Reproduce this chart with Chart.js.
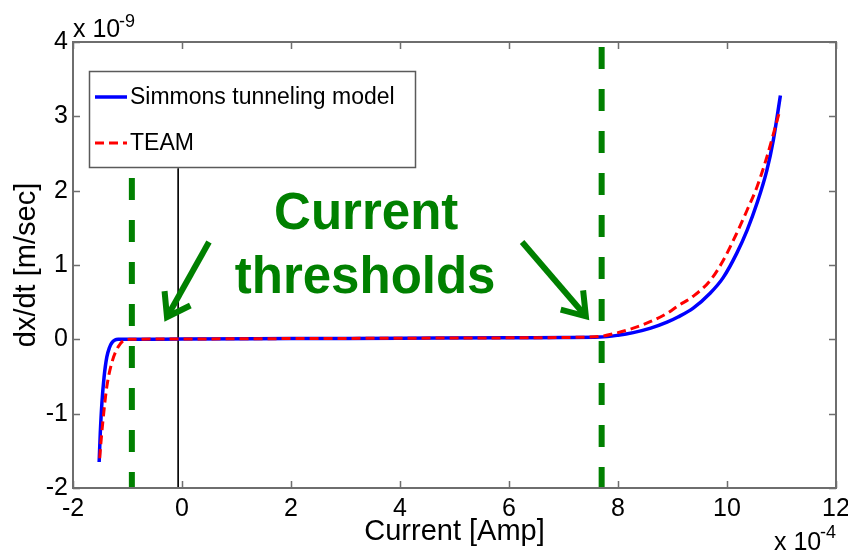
<!DOCTYPE html>
<html>
<head>
<meta charset="utf-8">
<script src="https://cdn.jsdelivr.net/npm/chart.js@4.4.0/dist/chart.umd.min.js"></script>
<style>
  html, body { margin: 0; padding: 0; background: #fff; }
  canvas { display: block; }
</style>
</head>
<body>
<canvas id="chart" width="848" height="552"></canvas>
<script>
// ---------------------------------------------------------------------------
// Data (x in 1e-4 A, y in 1e-9 m/s)
// ---------------------------------------------------------------------------
const simmonsX = [-1.52, -1.50, -1.47, -1.43, -1.38, -1.33, -1.29, -1.23, -1.17, -1.0, 0, 2, 4, 6, 7, 7.67, 8.0, 8.28, 8.6, 8.90, 9.1, 9.38, 9.69, 9.93, 10.18, 10.37, 10.55, 10.73, 10.85, 10.98];
const simmonsY = [-1.65, -1.27, -0.86, -0.51, -0.24, -0.11, -0.05, -0.01, 0.0, 0.0, 0.005, 0.01, 0.015, 0.02, 0.025, 0.03, 0.055, 0.09, 0.15, 0.23, 0.30, 0.42, 0.62, 0.83, 1.16, 1.47, 1.83, 2.27, 2.68, 3.28];

const teamX = [-1.51, -1.50, -1.45, -1.38, -1.29, -1.17, -1.05, -0.95, 0, 2, 4, 6, 7, 7.67, 8.0, 8.28, 8.6, 8.90, 9.1, 9.38, 9.69, 9.93, 10.18, 10.37, 10.55, 10.73, 10.97];
const teamY = [-1.60, -1.50, -1.09, -0.64, -0.32, -0.10, -0.01, 0.0, 0.005, 0.01, 0.015, 0.02, 0.025, 0.04, 0.09, 0.15, 0.24, 0.35, 0.45, 0.58, 0.79, 1.06, 1.43, 1.74, 2.05, 2.45, 3.08];

const thresholds = [-0.92, 7.7];
const thresholdTops = [2.25, 4];
const zeroMarker = -0.07;
const zeroMarkerTop = 2.3;

const xTicks = [-2, 0, 2, 4, 6, 8, 10, 12];
const yTicks = [-2, -1, 0, 1, 2, 3, 4];

const seriesLabels = ['Simmons tunneling model', 'TEAM'];
const annotationLines = ['Current', 'thresholds'];

const FONT = "'Liberation Sans', Arial, Helvetica, sans-serif";
const GREEN = '#008000';
const AXIS_COLOR = '#6e6e6e';

const toPoints = (xs, ys) => xs.map((x, i) => ({ x: x, y: ys[i] }));
const vLine = (x, top) => [{ x: x, y: top }, { x: x, y: yTicks[0] }];

// ---------------------------------------------------------------------------
// Plugin: MATLAB-style frame, inside ticks, legend, exponents, annotation
// ---------------------------------------------------------------------------
const matlabDecor = {
    id: 'matlabDecor',
    afterDatasetsDraw(chart) {
        const { ctx, chartArea: a, scales } = chart;
        const xs = scales.x, ys = scales.y;

        // frame
        ctx.save();
        ctx.strokeStyle = AXIS_COLOR;
        ctx.lineWidth = 2;
        ctx.strokeRect(a.left, a.top, a.right - a.left, a.bottom - a.top);

        // inward ticks on all four sides
        const tl = 7;
        ctx.beginPath();
        xTicks.forEach(v => {
            const p = Math.round(xs.getPixelForValue(v)) + 0.5;
            ctx.moveTo(p, a.bottom); ctx.lineTo(p, a.bottom - tl);
            ctx.moveTo(p, a.top); ctx.lineTo(p, a.top + tl);
        });
        yTicks.forEach(v => {
            const p = Math.round(ys.getPixelForValue(v)) + 0.5;
            ctx.moveTo(a.left, p); ctx.lineTo(a.left + tl, p);
            ctx.moveTo(a.right, p); ctx.lineTo(a.right - tl, p);
        });
        ctx.lineWidth = 1.5;
        ctx.stroke();

        // annotation text
        ctx.fillStyle = GREEN;
        ctx.font = 'bold 51px ' + FONT;
        ctx.textAlign = 'center';
        ctx.textBaseline = 'alphabetic';
        ctx.fillText(annotationLines[0], xs.getPixelForValue(3.38), ys.getPixelForValue(1.49));
        ctx.fillText(annotationLines[1], xs.getPixelForValue(3.36), ys.getPixelForValue(0.63));

        // arrows
        const arrow = (x0, y0, x1, y1) => {
            const px0 = xs.getPixelForValue(x0), py0 = ys.getPixelForValue(y0);
            const px1 = xs.getPixelForValue(x1), py1 = ys.getPixelForValue(y1);
            const ang = Math.atan2(py1 - py0, px1 - px0);
            const head = 26, spread = Math.PI / 5.2;
            ctx.strokeStyle = GREEN;
            ctx.lineWidth = 6;
            ctx.lineCap = 'butt';
            ctx.beginPath();
            ctx.moveTo(px0, py0);
            ctx.lineTo(px1, py1);
            ctx.stroke();
            ctx.beginPath();
            ctx.moveTo(px1 - head * Math.cos(ang - spread), py1 - head * Math.sin(ang - spread));
            ctx.lineTo(px1, py1);
            ctx.lineTo(px1 - head * Math.cos(ang + spread), py1 - head * Math.sin(ang + spread));
            ctx.stroke();
        };
        arrow(0.495, 1.31, -0.275, 0.30);
        arrow(6.24, 1.31, 7.41, 0.31);
        ctx.restore();
    },
    afterDraw(chart) {
        const { ctx, chartArea: a } = chart;
        ctx.save();

        // legend box
        const lx = a.left + 16, ly = a.top + 29, lw = 326, lh = 96;
        ctx.fillStyle = '#fff';
        ctx.fillRect(lx, ly, lw, lh);
        ctx.strokeStyle = '#5a5a5a';
        ctx.lineWidth = 1.5;
        ctx.strokeRect(lx + 0.5, ly + 0.5, lw, lh);

        const entries = [chart.data.datasets[2], chart.data.datasets[1]];
        entries.forEach((ds, i) => {
            const cy = ly + 26 + i * 46;
            ctx.strokeStyle = ds.borderColor;
            ctx.lineWidth = ds.borderWidth;
            ctx.setLineDash(ds.borderDash || []);
            ctx.beginPath();
            ctx.moveTo(lx + 6, cy);
            ctx.lineTo(lx + 38, cy);
            ctx.stroke();
            ctx.setLineDash([]);
            ctx.fillStyle = '#000';
            ctx.font = '23px ' + FONT;
            ctx.textAlign = 'left';
            ctx.textBaseline = 'middle';
            ctx.fillText(ds.label, lx + 41, cy + 1);
        });

        // exponent labels
        ctx.fillStyle = '#000';
        ctx.textAlign = 'left';
        ctx.textBaseline = 'alphabetic';
        ctx.font = '25px ' + FONT;
        ctx.fillText('x 10', a.left, 37);
        ctx.font = '18px ' + FONT;
        ctx.fillText('-9', a.left + 46, 27);

        ctx.font = '25px ' + FONT;
        ctx.fillText('x 10', a.right - 62, 550);
        ctx.font = '18px ' + FONT;
        ctx.fillText('-4', a.right - 16, 538);
        ctx.restore();
    }
};

// ---------------------------------------------------------------------------
// Chart
// ---------------------------------------------------------------------------
const ctx = document.getElementById('chart').getContext('2d');

const greenLine = (i) => ({
    label: 'threshold',
    data: vLine(thresholds[i], thresholdTops[i]),
    showLine: true,
    borderColor: GREEN,
    borderWidth: 6,
    borderDash: [22, 20],
    borderDashOffset: i === 0 ? 36 : 37,
    pointRadius: 0
});

const chart = new Chart(ctx, {
    type: 'scatter',
    data: {
        datasets: [
            // index 0 is drawn on top
            greenLine(0),
            {
                label: seriesLabels[1],
                data: toPoints(teamX, teamY),
                showLine: true,
                borderColor: '#ff0000',
                borderWidth: 3,
                borderDash: [9, 5],
                pointRadius: 0,
                cubicInterpolationMode: 'monotone'
            },
            {
                label: seriesLabels[0],
                data: toPoints(simmonsX, simmonsY),
                showLine: true,
                borderColor: '#0000ff',
                borderWidth: 3.5,
                pointRadius: 0,
                cubicInterpolationMode: 'monotone'
            },
            greenLine(1),
            {
                label: 'zero',
                data: vLine(zeroMarker, zeroMarkerTop),
                showLine: true,
                borderColor: '#000',
                borderWidth: 1,
                pointRadius: 0
            }
        ]
    },
    options: {
        responsive: false,
        animation: false,
        layout: { padding: { top: 42, right: 12, left: 0, bottom: 0 } },
        plugins: {
            legend: { display: false },
            tooltip: { enabled: false }
        },
        scales: {
            x: {
                type: 'linear',
                min: xTicks[0],
                max: xTicks[xTicks.length - 1],
                afterBuildTicks: s => { s.ticks = xTicks.map(v => ({ value: v })); },
                afterFit: s => { s.height = 64; s.paddingLeft = 0; s.paddingRight = 0; },
                grid: { display: false, drawTicks: false },
                border: { display: false },
                ticks: {
                    color: '#000',
                    padding: 6,
                    maxRotation: 0,
                    font: { family: FONT, size: 25 }
                },
                title: {
                    display: true,
                    text: 'Current [Amp]',
                    color: '#000',
                    padding: { top: 0, bottom: 3 },
                    font: { family: FONT, size: 29 }
                }
            },
            y: {
                type: 'linear',
                min: yTicks[0],
                max: yTicks[yTicks.length - 1],
                afterBuildTicks: s => { s.ticks = yTicks.map(v => ({ value: v })); },
                afterFit: s => { s.width = 73; s.paddingTop = 0; s.paddingBottom = 0; },
                grid: { display: false, drawTicks: false },
                border: { display: false },
                ticks: {
                    color: '#000',
                    padding: 5,
                    font: { family: FONT, size: 25 }
                },
                title: {
                    display: true,
                    text: 'dx/dt [m/sec]',
                    color: '#000',
                    padding: { top: 10, bottom: 0 },
                    font: { family: FONT, size: 29 }
                }
            }
        }
    },
    plugins: [matlabDecor]
});
</script>
</body>
</html>
